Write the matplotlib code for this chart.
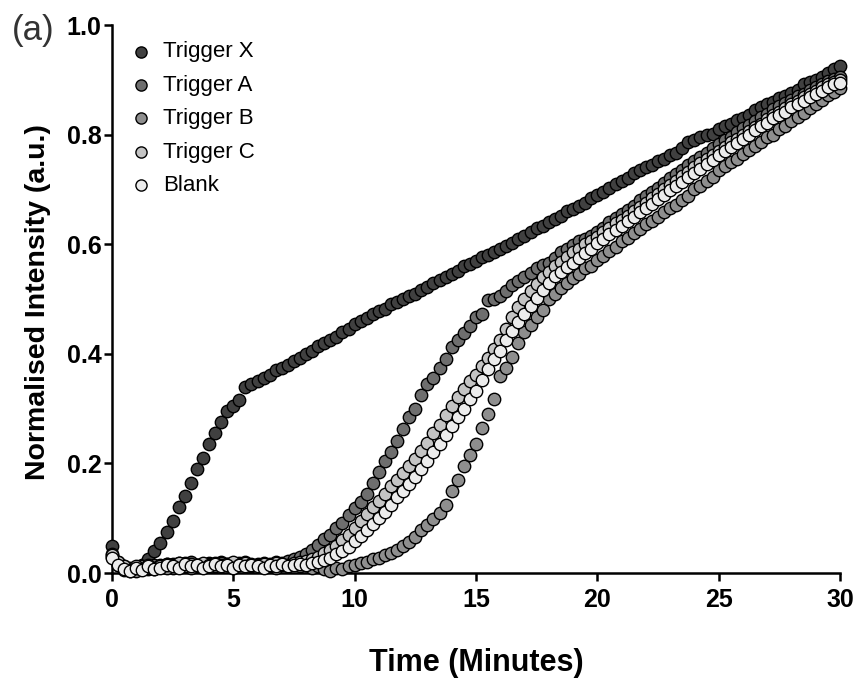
import numpy as np
import matplotlib.pyplot as plt

# sampling grid: one reading every 15 s over 30 minutes
time_min = np.arange(121) * 0.25

trigger_x = [
    0.050, 0.020, 0.012, 0.005, 0.008, 0.015, 0.025, 0.040,
    0.055, 0.075, 0.095, 0.120, 0.140, 0.165, 0.190, 0.210,
    0.235, 0.255, 0.275, 0.295, 0.305, 0.315, 0.340, 0.345,
    0.350, 0.355, 0.362, 0.370, 0.375, 0.380, 0.386, 0.392,
    0.400, 0.406, 0.415, 0.420, 0.425, 0.431, 0.440, 0.446,
    0.455, 0.460, 0.466, 0.472, 0.478, 0.482, 0.490, 0.494,
    0.500, 0.506, 0.510, 0.516, 0.522, 0.530, 0.534, 0.540,
    0.546, 0.552, 0.560, 0.564, 0.570, 0.576, 0.580, 0.586,
    0.592, 0.596, 0.602, 0.610, 0.615, 0.622, 0.630, 0.634,
    0.640, 0.646, 0.652, 0.660, 0.665, 0.670, 0.676, 0.685,
    0.690, 0.695, 0.702, 0.710, 0.715, 0.720, 0.730, 0.735,
    0.740, 0.745, 0.752, 0.756, 0.762, 0.766, 0.776, 0.786,
    0.790, 0.795, 0.800, 0.802, 0.810, 0.815, 0.820, 0.826,
    0.830, 0.836, 0.845, 0.850, 0.855, 0.860, 0.866, 0.870,
    0.876, 0.882, 0.892, 0.896, 0.900, 0.906, 0.912, 0.920,
    0.925,
]

trigger_a = [
    0.030, 0.018, 0.008, 0.004, 0.010, 0.012, 0.008, 0.014,
    0.012, 0.016, 0.010, 0.018, 0.014, 0.020, 0.012, 0.016,
    0.018, 0.014, 0.020, 0.016, 0.012, 0.018, 0.020, 0.015,
    0.014, 0.018, 0.016, 0.020, 0.018, 0.022, 0.025, 0.030,
    0.035, 0.042, 0.052, 0.062, 0.070, 0.082, 0.092, 0.105,
    0.118, 0.130, 0.145, 0.165, 0.185, 0.205, 0.220, 0.240,
    0.262, 0.285, 0.300, 0.325, 0.345, 0.355, 0.375, 0.390,
    0.412, 0.425, 0.438, 0.450, 0.468, 0.472, 0.498, 0.500,
    0.505, 0.515, 0.525, 0.532, 0.540, 0.548, 0.556, 0.562,
    0.566, 0.575, 0.585, 0.592, 0.598, 0.605, 0.610, 0.615,
    0.622, 0.630, 0.640, 0.648, 0.656, 0.662, 0.670, 0.680,
    0.688, 0.695, 0.702, 0.712, 0.720, 0.728, 0.735, 0.745,
    0.752, 0.760, 0.766, 0.775, 0.782, 0.790, 0.796, 0.805,
    0.812, 0.818, 0.825, 0.832, 0.838, 0.846, 0.852, 0.858,
    0.864, 0.870, 0.875, 0.882, 0.886, 0.892, 0.898, 0.902,
    0.905,
]

trigger_b = [
    0.035, 0.015, 0.006, 0.010, 0.004, 0.012, 0.010, 0.008,
    0.014, 0.010, 0.016, 0.012, 0.018, 0.010, 0.015, 0.012,
    0.016, 0.012, 0.018, 0.014, 0.010, 0.016, 0.014, 0.012,
    0.016, 0.012, 0.015, 0.010, 0.014, 0.012, 0.016, 0.012,
    0.014, 0.010, 0.012, 0.008, 0.004, 0.010, 0.008, 0.012,
    0.014, 0.018, 0.020, 0.025, 0.028, 0.032, 0.036, 0.042,
    0.050, 0.056, 0.066, 0.078, 0.088, 0.098, 0.110, 0.125,
    0.150, 0.170, 0.195, 0.215, 0.235, 0.265, 0.290, 0.318,
    0.360, 0.375, 0.395, 0.420, 0.440, 0.452, 0.468, 0.480,
    0.500, 0.510, 0.520, 0.530, 0.538, 0.545, 0.556, 0.560,
    0.572, 0.578, 0.588, 0.595, 0.605, 0.612, 0.620, 0.628,
    0.636, 0.642, 0.650, 0.658, 0.666, 0.672, 0.680, 0.688,
    0.700, 0.706, 0.715, 0.722, 0.735, 0.742, 0.750, 0.756,
    0.764, 0.772, 0.780, 0.786, 0.795, 0.800, 0.810, 0.816,
    0.825, 0.832, 0.840, 0.848, 0.856, 0.864, 0.872, 0.878,
    0.885,
]

trigger_c = [
    0.032, 0.020, 0.012, 0.006, 0.012, 0.008, 0.014, 0.010,
    0.012, 0.016, 0.014, 0.018, 0.012, 0.016, 0.014, 0.018,
    0.015, 0.018, 0.014, 0.016, 0.020, 0.014, 0.018, 0.016,
    0.014, 0.016, 0.012, 0.018, 0.016, 0.014, 0.018, 0.020,
    0.022, 0.026, 0.030, 0.036, 0.042, 0.050, 0.060, 0.070,
    0.082, 0.095, 0.108, 0.120, 0.132, 0.145, 0.158, 0.170,
    0.182, 0.195, 0.208, 0.222, 0.238, 0.255, 0.270, 0.288,
    0.305, 0.322, 0.335, 0.350, 0.362, 0.378, 0.392, 0.408,
    0.425, 0.445, 0.468, 0.485, 0.500, 0.515, 0.528, 0.540,
    0.550, 0.560, 0.568, 0.576, 0.585, 0.592, 0.600, 0.606,
    0.614, 0.622, 0.630, 0.638, 0.645, 0.652, 0.660, 0.668,
    0.676, 0.684, 0.692, 0.700, 0.708, 0.716, 0.724, 0.732,
    0.740, 0.748, 0.756, 0.762, 0.770, 0.778, 0.786, 0.792,
    0.800, 0.806, 0.814, 0.820, 0.828, 0.835, 0.842, 0.848,
    0.855, 0.862, 0.868, 0.874, 0.880, 0.886, 0.892, 0.896,
    0.900,
]

blank = [
    0.028, 0.014, 0.008, 0.004, 0.010, 0.006, 0.012, 0.008,
    0.010, 0.014, 0.012, 0.010, 0.016, 0.012, 0.014, 0.010,
    0.012, 0.016, 0.012, 0.014, 0.010, 0.015, 0.012, 0.014,
    0.012, 0.010, 0.014, 0.012, 0.016, 0.012, 0.014, 0.016,
    0.014, 0.018, 0.020, 0.024, 0.028, 0.034, 0.040, 0.048,
    0.058, 0.068, 0.078, 0.090, 0.100, 0.112, 0.125, 0.138,
    0.150, 0.162, 0.175, 0.190, 0.205, 0.220, 0.236, 0.252,
    0.268, 0.285, 0.300, 0.318, 0.332, 0.352, 0.372, 0.390,
    0.405, 0.425, 0.442, 0.458, 0.472, 0.488, 0.502, 0.516,
    0.530, 0.542, 0.550, 0.558, 0.566, 0.575, 0.584, 0.592,
    0.602, 0.610, 0.618, 0.626, 0.634, 0.642, 0.650, 0.658,
    0.666, 0.674, 0.682, 0.690, 0.698, 0.706, 0.714, 0.722,
    0.730, 0.738, 0.746, 0.754, 0.762, 0.770, 0.778, 0.785,
    0.792, 0.800, 0.808, 0.815, 0.822, 0.830, 0.836, 0.842,
    0.850, 0.856, 0.862, 0.868, 0.874, 0.880, 0.886, 0.892,
    0.895,
]

series_names = ['Trigger X', 'Trigger A', 'Trigger B', 'Trigger C', 'Blank']
series_colors = ['#404040', '#6e6e6e', '#8e8e8e', '#c4c4c4', '#ececec']
x_ticks = [0, 5, 10, 15, 20, 25, 30]
y_ticks = [0.0, 0.2, 0.4, 0.6, 0.8, 1.0]


def main():
    plt.rcParams['font.family'] = ['Liberation Sans', 'DejaVu Sans']
    fig = plt.figure(figsize=(8.61, 6.85), dpi=100)
    ax = fig.add_axes([0.130, 0.1635, 0.8456, 0.800])

    all_series = [trigger_x, trigger_a, trigger_b, trigger_c, blank]
    for values, name, color in zip(all_series, series_names, series_colors):
        ax.scatter(time_min, values, s=80, c=color, edgecolors='black',
                   linewidths=1.0, label=name, clip_on=False, zorder=3)

    ax.set_xlim(0, 30)
    ax.set_ylim(0, 1.0)
    ax.set_xticks(x_ticks)
    ax.set_xticklabels([str(v) for v in x_ticks])
    ax.set_yticks(y_ticks)
    ax.set_yticklabels([f'{v:.1f}' for v in y_ticks])

    for side in ['top', 'right']:
        ax.spines[side].set_visible(False)
    for side in ['left', 'bottom']:
        ax.spines[side].set_linewidth(1.8)
    ax.tick_params(direction='out', length=5.5, width=1.8, labelsize=18, pad=2)
    ax.tick_params(axis='x', pad=5)
    for lab in ax.get_xticklabels() + ax.get_yticklabels():
        lab.set_fontweight('bold')

    ax.set_xlabel('Time (Minutes)', fontsize=22, fontweight='bold')
    ax.set_ylabel('Normalised Intensity (a.u.)', fontsize=20.5, fontweight='bold')
    ax.xaxis.label.set_va('center')
    ax.yaxis.label.set_va('center')
    ax.xaxis.set_label_coords(0.5, -0.164)
    ax.yaxis.set_label_coords(-0.1016, 0.494)

    ax.legend(loc='upper left', bbox_to_anchor=(0.0247, 0.970), frameon=False,
              fontsize=16, handlelength=1.0, handletextpad=0.5, labelspacing=0.56,
              borderaxespad=0.0, borderpad=0.0, markerscale=0.9)

    fig.text(0.014, 0.956, '(a)', fontsize=25, color='#333333', va='center', ha='left')

    fig.savefig('out.png', dpi=100)


if __name__ == '__main__':
    main()
